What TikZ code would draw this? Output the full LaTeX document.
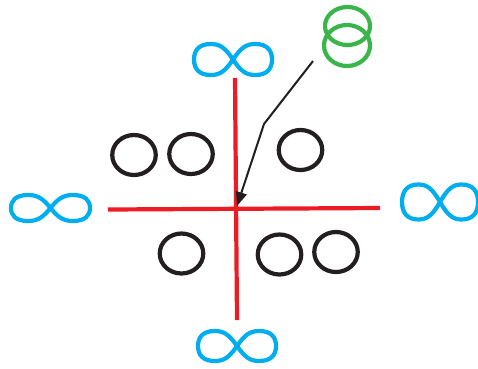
\documentclass[tikz,border=0pt]{standalone}
\usetikzlibrary{shapes.geometric,arrows.meta}
\definecolor{axisred}{HTML}{ED1C24}
\definecolor{infblue}{HTML}{00AEEF}
\definecolor{ringgreen}{HTML}{39B54A}
\definecolor{inkblack}{HTML}{231F20}
\tikzset{
  axisline/.style={draw=axisred, line width=4.2pt},
  blackring/.style={ellipse, draw=inkblack, line width=4.2pt, inner sep=0pt, minimum width=43.5pt, minimum height=40pt},
  greenring/.style={ellipse, draw=ringgreen, line width=4.2pt, inner sep=0pt},
  pointer/.style={draw=inkblack, line width=2pt, -{Triangle[length=14pt,width=11pt]}},
  pics/infinity/.style args={#1/#2}{code={
    \draw[infblue, line width=4.2pt, line join=round]
      (0,0) .. controls (0.2*#1,-0.75*#2) and (0.33*#1,-#2) .. (0.57*#1,-#2)
      .. controls (0.87*#1,-#2) and (#1,-0.6*#2) .. (#1,0)
      .. controls (#1,0.6*#2) and (0.87*#1,#2) .. (0.57*#1,#2)
      .. controls (0.33*#1,#2) and (0.2*#1,0.75*#2) .. (0,0)
      .. controls (-0.2*#1,-0.75*#2) and (-0.33*#1,-#2) .. (-0.57*#1,-#2)
      .. controls (-0.87*#1,-#2) and (-#1,-0.6*#2) .. (-#1,0)
      .. controls (-#1,0.6*#2) and (-0.87*#1,#2) .. (-0.57*#1,#2)
      .. controls (-0.33*#1,#2) and (-0.2*#1,0.75*#2) .. cycle;
  }}
}
\begin{document}
\begin{tikzpicture}[x=1pt,y=-1pt]
\useasboundingbox (0,0) rectangle (478,368);
% axes
\coordinate (vtop) at (235,78);
\coordinate (vbot) at (237,320);
\coordinate (hleft) at (108,209.5);
\coordinate (hright) at (380,208);
\draw[axisline] (vtop) -- (vbot);
\draw[axisline] (hleft) -- (hright);
% black rings
\node[blackring] (r1) at (134,155) {};
\node[blackring] (r2) at (191,154) {};
\node[blackring] (r3) at (300.5,150) {};
\node[blackring] (r4) at (181.5,253.5) {};
\node[blackring] (r5) at (279.5,254.5) {};
\node[blackring] (r6) at (336,252) {};
% green rings
\node[greenring, minimum width=45pt, minimum height=38pt] (g1) at (347.5,26) {};
\node[greenring, minimum width=46pt, minimum height=41pt] (g2) at (347,45.5) {};
% arrow
\coordinate (astart) at (313,61);
\coordinate (abend) at (264,124);
\coordinate (atip) at (237,206);
\draw[pointer] (astart) -- (abend) -- (atip);
% infinity symbols
\pic (inftop) at (233,59.5) {infinity={39/15.5}};
\pic (infleft) at (50.5,208) {infinity={39.5/13}};
\pic (infbot) at (237,346) {infinity={39/15}};
\pic (infright) at (440,202) {infinity={38/17.5}};
\end{tikzpicture}
\end{document}
